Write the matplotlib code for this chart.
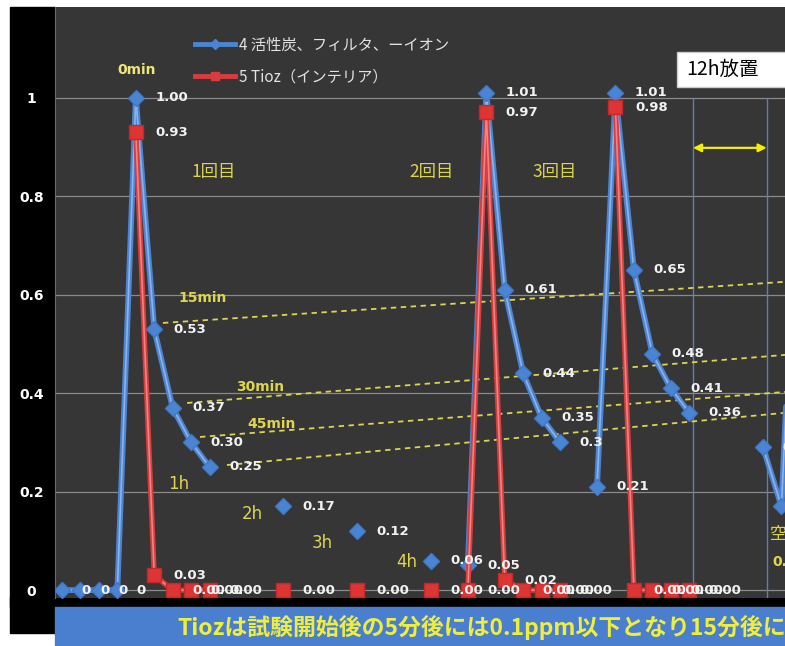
import matplotlib
matplotlib.use("Agg")
import matplotlib.pyplot as plt
import numpy as np
from matplotlib.lines import Line2D
from matplotlib.patches import Rectangle

plt.rcParams["font.family"] = ["Noto Sans CJK JP", "DejaVu Sans"]

nan = np.nan

# 15分刻みのカテゴリ (0 = 0min)
slots = list(range(41))

blue_name = "4 活性炭、フィルタ、ーイオン"
blue_vals = [0, 0, 0, 0, 1.00, 0.53, 0.37, 0.30, 0.25, nan, nan, nan,
             0.17, nan, nan, nan, 0.12, nan, nan, nan, 0.06, nan,
             0.05, 1.01, 0.61, 0.44, 0.35, 0.30, nan,
             0.21, 1.01, 0.65, 0.48, 0.41, 0.36, nan, nan, nan,
             0.29, 0.17, 1.00]
blue_labels = ["0", "0", "0", "0", "1.00", "0.53", "0.37", "0.30", "0.25", "", "", "",
               "0.17", "", "", "", "0.12", "", "", "", "0.06", "",
               "0.05", "1.01", "0.61", "0.44", "0.35", "0.3", "",
               "0.21", "1.01", "0.65", "0.48", "0.41", "0.36", "", "", "",
               "0.29", "0.17", ""]

red_name = "5 Tioz（インテリア）"
red_vals = [nan, nan, nan, nan, 0.93, 0.03, 0, 0, 0, nan, nan, nan,
            0, nan, nan, nan, 0, nan, nan, nan, 0, nan,
            0, 0.97, 0.02, 0, 0, 0, nan, nan,
            0.98, 0, 0, 0, 0, nan, nan, nan, nan, nan, nan]

yticks = [0, 0.2, 0.4, 0.6, 0.8, 1.0]
ytick_labels = ["0", "0.2", "0.4", "0.6", "0.8", "1"]

# 経過時間の注記 (テキスト, x, y)
time_notes = [("15min", 6.3, 0.593), ("30min", 9.43, 0.413), ("45min", 10.03, 0.337)]
hour_notes = [("1h", 5.75, 0.216), ("2h", 9.76, 0.155), ("3h", 13.55, 0.096), ("4h", 18.1, 0.057)]
round_notes = [("1回目", 8.2, 0.849), ("2回目", 20.05, 0.849), ("3回目", 26.7, 0.849)]

# 補助の点線 (始点, 終点)
guides = [((5.47, 0.5425), (39.19, 0.626)),
          ((6.78, 0.380), (39.19, 0.4776)),
          ((7.48, 0.311), (39.19, 0.4024)),
          ((8.94, 0.254), (39.19, 0.360))]

BLUE = "#4a84d2"
RED = "#d83c3c"
YEL = "#ddd54e"

W, H = 785, 646
fig = plt.figure(figsize=(W / 100, H / 100), dpi=100, facecolor="white")

# 背景の黒帯・下のバナー
fig.patches.append(Rectangle((10 / W, 1 - 633 / H), 45 / W, 626 / H,
                             transform=fig.transFigure, figure=fig, color="black", zorder=-1))
fig.patches.append(Rectangle((10 / W, 1 - 607 / H), 775 / W, 10 / H,
                             transform=fig.transFigure, figure=fig, color="black", zorder=-1))
fig.patches.append(Rectangle((55 / W, 0), 730 / W, 1 - 607 / H,
                             transform=fig.transFigure, figure=fig, color="#4a7fcf", zorder=-1))
fig.text(177 / W, 1 - 627 / H, "Tiozは試験開始後の5分後には0.1ppm以下となり15分後に",
         color="#f0ee3c", fontsize=16.5, fontweight="bold", va="center", ha="left")

ax = fig.add_axes([55 / W, 1 - 598 / H, 730 / W, 591 / H])
ax.set_facecolor("#363636")
ax.set_xlim(-0.38, 39.19)
ax.set_ylim(-0.016, 1.184)
ax.set_xticks([])
ax.set_yticks(yticks)
ax.set_yticklabels(ytick_labels, ha="center", fontweight="bold", family="DejaVu Sans")
ax.tick_params(axis="y", length=0, colors="white", labelsize=10, pad=17)
ax.yaxis.grid(True, color="#8a8a8a", lw=0.9)
ax.set_axisbelow(True)
for s in ["top", "right", "bottom"]:
    ax.spines[s].set_visible(False)
ax.spines["left"].set_color("#6a6a6a")

# 12h放置の区間
ax.vlines([34.2, 38.2], -0.02, 1.0, color="#5a80b8", lw=1, zorder=1)
ax.annotate("", xy=(38.2, 0.898), xytext=(34.2, 0.898),
            arrowprops=dict(arrowstyle="<|-|>", color="#f2f000", lw=1.6,
                            mutation_scale=12, shrinkA=0, shrinkB=0), zorder=2)
ax.add_patch(Rectangle((33.33, 1.022), 7, 0.071, facecolor="white",
                       edgecolor="#cccccc", zorder=2))
ax.text(33.85, 1.057, "12h放置", fontsize=14, color="black", va="center", ha="left", zorder=3)

for (x0, y0), (x1, y1) in guides:
    ax.plot([x0, x1], [y0, y1], color=YEL, lw=1.3, ls=(0, (3, 2.5)), zorder=2)

# 系列
ax.plot(slots, blue_vals, color=BLUE, lw=4.2, solid_capstyle="round", zorder=3)
ax.plot(slots, blue_vals, color="#8cb3ea", lw=1.2, zorder=3.1)
ax.plot(slots, blue_vals, ls="none", marker="D", ms=8, color=BLUE, mec="#3f78c8", zorder=3.2)

ax.plot(slots, red_vals, color=RED, lw=3.8, zorder=4)
ax.plot(slots, red_vals, color="#ee8484", lw=1.2, zorder=4.1)
ax.plot(slots, red_vals, ls="none", marker="s", ms=10.5, color="#dd3434", mec="#c02a2a", zorder=4.2)

for x, v, lab in zip(slots, blue_vals, blue_labels):
    if lab:
        ax.annotate(lab, (x, v), xytext=(14, 0), textcoords="offset points",
                    ha="left", va="center", color="#f2f2f2", fontsize=9.5,
                    fontweight="bold", family="DejaVu Sans", zorder=6)
for x, v in zip(slots, red_vals):
    if not np.isnan(v):
        ax.annotate(f"{v:.2f}", (x, v), xytext=(14, 0), textcoords="offset points",
                    ha="left", va="center", color="#f2f2f2", fontsize=9.5,
                    fontweight="bold", family="DejaVu Sans", zorder=6)

# 注記
ax.text(4.05, 1.056, "0min", color="#eee67a", fontsize=10, fontweight="bold",
        family="DejaVu Sans", ha="center", va="center", zorder=6)
for t, x, y in time_notes:
    ax.text(x, y, t, color=YEL, fontsize=10, fontweight="bold",
            family="DejaVu Sans", ha="left", va="center", zorder=6)
for t, x, y in hour_notes:
    ax.text(x, y, t, color=YEL, fontsize=12, family="DejaVu Sans",
            ha="left", va="center", zorder=6)
for t, x, y in round_notes:
    ax.text(x, y, t, color=YEL, fontsize=12.5, ha="center", va="center", zorder=6)
ax.text(38.37, 0.112, "空", color=YEL, fontsize=12, ha="left", va="center", zorder=6)
ax.text(38.48, 0.057, "0.", color=YEL, fontsize=10, fontweight="bold",
        family="DejaVu Sans", ha="left", va="center", zorder=6)

h_blue = Line2D([], [], color=BLUE, lw=3.5, marker="D", ms=8.5, mec=BLUE)
h_red = Line2D([], [], color=RED, lw=3.5, marker="s", ms=10, mec=RED)
ax.legend([h_blue, h_red], [blue_name, red_name], loc="upper left",
          bbox_to_anchor=(0.192, 0.95), frameon=False, fontsize=11,
          labelcolor="#e2e2e2", handlelength=2.6, handletextpad=0.3,
          labelspacing=0.95, borderpad=0, borderaxespad=0, markerscale=0.55)

fig.savefig("out.png", dpi=100, facecolor="white")
